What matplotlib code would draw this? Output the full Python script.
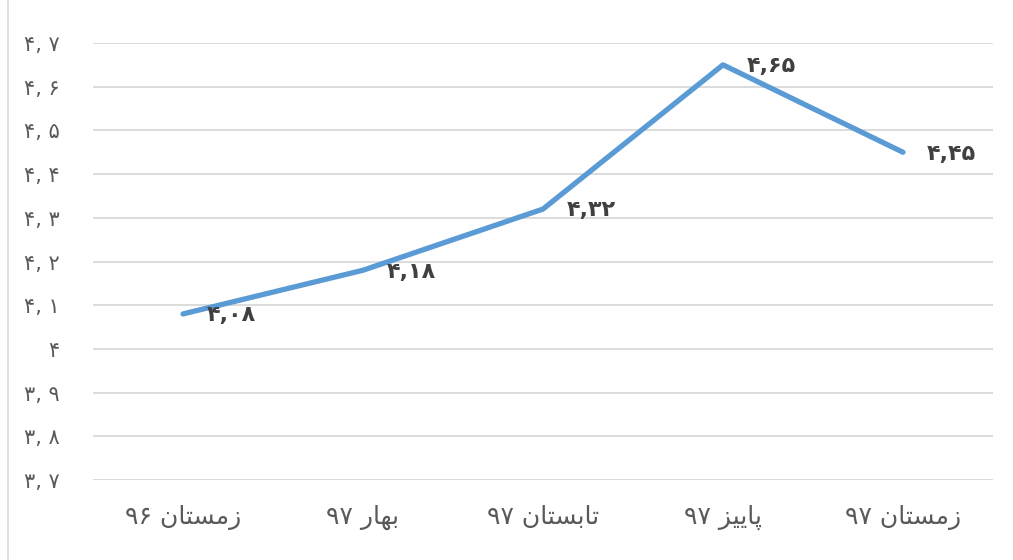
import matplotlib
matplotlib.use("Agg")
import matplotlib.pyplot as plt
from matplotlib.lines import Line2D

plt.rcParams['font.family'] = ['DejaVu Sans']

# ---- data ----
categories = ["زمستان ۹۶", "بهار ۹۷", "تابستان ۹۷", "پاییز ۹۷", "زمستان ۹۷"]
values = [4.08, 4.18, 4.32, 4.65, 4.45]
y_ticks = [3.7, 3.8, 3.9, 4.0, 4.1, 4.2, 4.3, 4.4, 4.5, 4.6, 4.7]

# ---- minimal Persian shaping (matplotlib has no Arabic shaping/bidi) ----
FORMS = {  # isolated, final, initial, medial
    'ا': ('\uFE8D', '\uFE8E', None, None),
    'ب': ('\uFE8F', '\uFE90', '\uFE91', '\uFE92'),
    'پ': ('\uFB56', '\uFB57', '\uFB58', '\uFB59'),
    'ت': ('\uFE95', '\uFE96', '\uFE97', '\uFE98'),
    'ر': ('\uFEAD', '\uFEAE', None, None),
    'ز': ('\uFEAF', '\uFEB0', None, None),
    'س': ('\uFEB1', '\uFEB2', '\uFEB3', '\uFEB4'),
    'م': ('\uFEE1', '\uFEE2', '\uFEE3', '\uFEE4'),
    'ن': ('\uFEE5', '\uFEE6', '\uFEE7', '\uFEE8'),
    'ه': ('\uFEE9', '\uFEEA', '\uFEEB', '\uFEEC'),
    'ی': ('\uFBFC', '\uFBFD', '\uFBFE', '\uFBFF'),
}


def shape_word(w):
    out = []
    n = len(w)
    for i, ch in enumerate(w):
        f = FORMS.get(ch)
        if f is None:
            out.append(ch)
            continue
        prev_c = i > 0 and w[i - 1] in FORMS and FORMS[w[i - 1]][2] is not None
        next_c = f[2] is not None and i < n - 1 and w[i + 1] in FORMS
        if prev_c and next_c:
            out.append(f[3])
        elif prev_c:
            out.append(f[1])
        elif next_c:
            out.append(f[2])
        else:
            out.append(f[0])
    return ''.join(reversed(out))


def visual(label):
    word, num = label.split(' ')
    return num + ' ' + shape_word(word)


FA_DIGITS = str.maketrans('0123456789', '۰۱۲۳۴۵۶۷۸۹')


def fa_num(v, fmt, sep=','):
    s = fmt % v
    if s.endswith('.0'):
        s = s[:-2]
    return s.replace('.', sep).translate(FA_DIGITS)


# ---- figure ----
fig = plt.figure(figsize=(10.13, 5.6), dpi=100)
ax = fig.add_axes([93 / 1013, 1 - 480 / 560, 900 / 1013, 437 / 560])

x = list(range(len(categories)))
ax.plot(x, values, color='#5B9BD5', lw=3.8, solid_capstyle='round', zorder=3)

for xi, v in zip(x, values):
    ax.annotate(fa_num(v, '%.2f'), (xi, v), xytext=(17, -1), textcoords='offset points',
                ha='left', va='center', fontsize=16, fontweight='bold', color='#404040',
                zorder=4)

ax.set_xlim(-0.5, len(categories) - 0.5)
ax.set_ylim(3.7, 4.7)
ax.set_yticks(y_ticks)
ax.set_yticklabels([fa_num(t, '%.1f', ', ') for t in y_ticks])
ax.set_xticks(x)
ax.set_xticklabels([visual(c) for c in categories])

ax.tick_params(axis='y', length=0, pad=24, labelsize=15, labelcolor='#595959')
ax.tick_params(axis='x', length=0, pad=18, labelsize=18, labelcolor='#595959')

ax.grid(axis='y', color='#D9D9D9', lw=1.3)
ax.set_axisbelow(True)
for s in ax.spines.values():
    s.set_visible(False)

fig.add_artist(Line2D([8 / 1013, 8 / 1013], [0, 1], transform=fig.transFigure,
                      color='#D9D9D9', lw=1.2))

fig.savefig('out.png', dpi=100)
